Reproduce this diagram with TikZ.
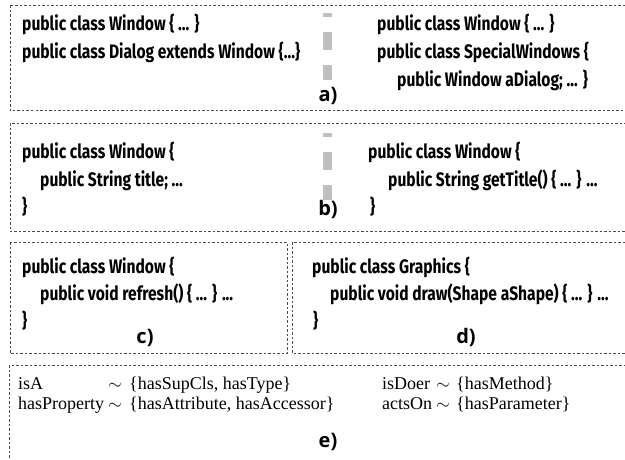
\documentclass[tikz,border=0pt]{standalone}
\usepackage{fontspec}
\setmainfont{Liberation Serif}
\newfontfamily\codefont[FakeStretch=0.8]{Fira Sans}
\newfontfamily\tagfont{Open Sans}
\usetikzlibrary{positioning}

\begin{document}
\begin{tikzpicture}[
    x=1pt, y=-1pt,
    frame/.style={draw=black!70, line width=0.5pt, dash pattern=on 2.5pt off 2pt},
    divider/.style={draw=black!25, line width=9pt, dash pattern=on 18pt off 15pt, dash phase=14pt},
    code/.style={anchor=base west, inner sep=0pt, font=\codefont\bfseries\fontsize{19.5}{24}\selectfont},
    tag/.style={anchor=base, inner sep=0pt, font=\tagfont\bfseries\fontsize{20}{24}\selectfont},
    rel/.style={anchor=base west, inner sep=0pt, font=\fontsize{18}{20}\selectfont},
    sim/.style={anchor=base, inner sep=0pt, font=\fontsize{18}{20}\selectfont},
]
\useasboundingbox (0,0) rectangle (625,459);

% ── Frames ──
\draw[frame] (10,5)    rectangle (640,110);
\draw[frame] (10,123)  rectangle (640,231);
\draw[frame] (10,242)  rectangle (287,353);
\draw[frame] (292,242) rectangle (640,353);
\draw[frame] (9,365)   rectangle (640,470);

% ── Dividers between the two halves ──
\draw[divider] (327.5,13)  -- (327.5,80);
\draw[divider] (327.5,133) -- (327.5,200);

% ── a) inheritance vs. aggregation ──
\node[code] (aL1) at (22,30)  {public class Window \{ ... \}};
\node[code] (aL2) at (22,58)  {public class Dialog extends Window \{...\}};
\node[code] (aR1) at (377,30) {public class Window \{ ... \}};
\node[code] (aR2) at (377,58) {public class SpecialWindows \{};
\node[code] (aR3) at (397,86) {public Window aDialog; ... \}};
\node[tag]  (tagA) at (328,101) {a)};

% ── b) attribute vs. accessor ──
\node[code] (bL1) at (22,158)  {public class Window \{};
\node[code] (bL2) at (40,186)  {public String title; ...};
\node[code] (bL3) at (22,213)  {\}};
\node[code] (bR1) at (368,158) {public class Window \{};
\node[code] (bR2) at (388,186) {public String getTitle() \{ ... \} ...};
\node[code] (bR3) at (370,213) {\}};
\node[tag]  (tagB) at (328,215) {b)};

% ── c) method ──
\node[code] (cL1) at (22,273) {public class Window \{};
\node[code] (cL2) at (40,300) {public void refresh() \{ ... \} ...};
\node[code] (cL3) at (22,327) {\}};
\node[tag]  (tagC) at (145,343) {c)};

% ── d) parameter ──
\node[code] (dL1) at (312,273) {public class Graphics \{};
\node[code] (dL2) at (330,300) {public void draw(Shape aShape) \{ ... \} ...};
\node[code] (dL3) at (313,327) {\}};
\node[tag]  (tagD) at (466,343) {d)};

% ── e) relation mapping ──
\node[rel] (isA)    at (18,389)  {isA};
\node[sim] (simA)   at (115,389) {$\sim$};
\node[rel] (setA)   at (129,389) {\{hasSupCls, hasType\}};
\node[rel] (hasP)   at (18,409)  {hasProperty};
\node[sim] (simP)   at (115,409) {$\sim$};
\node[rel] (setP)   at (129,409) {\{hasAttribute, hasAccessor\}};
\node[rel] (isD)    at (382,389) {isDoer};
\node[sim] (simD)   at (443,389) {$\sim$};
\node[rel] (setD)   at (456,389) {\{hasMethod\}};
\node[rel] (actsOn) at (382,409) {actsOn};
\node[sim] (simO)   at (443,409) {$\sim$};
\node[rel] (setO)   at (456,409) {\{hasParameter\}};
\node[tag] (tagE)   at (328,447) {e)};

\end{tikzpicture}
\end{document}
